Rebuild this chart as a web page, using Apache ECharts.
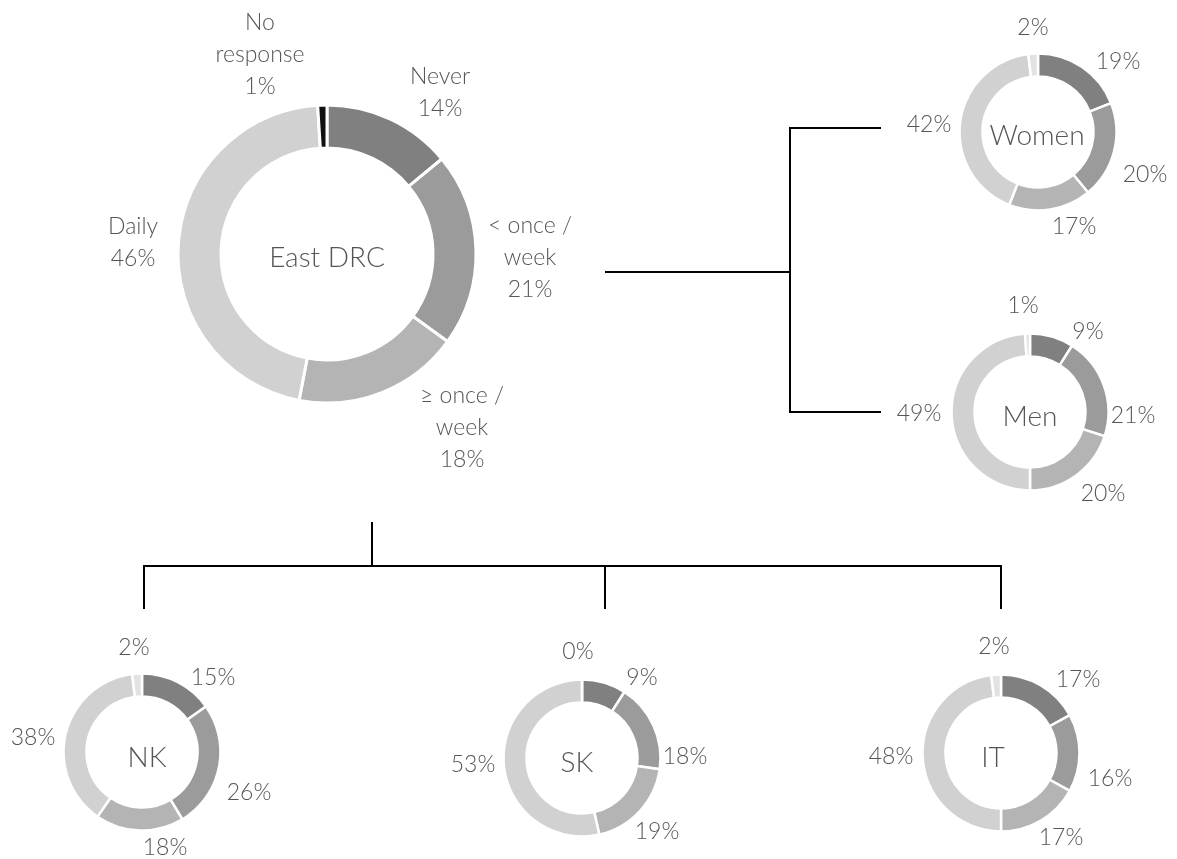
<!DOCTYPE html>
<html>
<head>
<meta charset="utf-8">
<script src="https://cdn.jsdelivr.net/npm/echarts@6/dist/echarts.min.js"></script>
<style>
html,body{margin:0;padding:0;background:#fff;}
#chart{width:1177px;height:859px;}
</style>
</head>
<body>
<div id="chart"></div>
<script>
// ---- data ----
const categories = ['Never', '< once / week', '≥ once / week', 'Daily', 'No response'];
const mainLabelNames = ['Never', '< once /\nweek', '≥ once /\nweek', 'Daily', 'No\nresponse'];
const groupNames = ['East DRC', 'Women', 'Men', 'NK', 'SK', 'IT'];
const eastDRC = [14, 21, 18, 46, 1];
const women = [19, 20, 17, 42, 2];
const men = [9, 21, 20, 49, 1];
const nk = [15, 26, 18, 38, 2];
const sk = [9, 18, 19, 53, 0];
const it = [17, 16, 17, 48, 2];

// ---- layout / style ----
const textColor = '#555555';
const font = 'Lato, "Open Sans", sans-serif';
const mainColors = ['#808080', '#9b9b9b', '#b4b4b4', '#d1d1d1', '#111111'];
const smallColors = ['#808080', '#9b9b9b', '#b4b4b4', '#d1d1d1', '#e2e2e2'];

const donuts = [
  { values: eastDRC, center: [327, 254], radius: [106, 149], border: 3, colors: mainColors, big: true,
    offsets: [[113, -161], [203, 4], [135, 174], [-194, -11], [-67, -199]], titleOff: [0, 4] },
  { values: women, center: [1038, 132], radius: [55.5, 78.5], border: 2.5, colors: smallColors,
    offsets: [[80, -70], [107, 43], [36, 95], [-109, -7], [-5, -104]], titleOff: [-1, 4] },
  { values: men, center: [1030, 412], radius: [55.5, 78.5], border: 2.5, colors: smallColors,
    offsets: [[58, -80], [103, 4], [73, 82], [-111, 2], [-7, -106]], titleOff: [0, 5] },
  { values: nk, center: [142, 752], radius: [55.5, 78.5], border: 2.5, colors: smallColors,
    offsets: [[71, -74], [107, 41], [23, 96], [-109, -14], [-8, -104]], titleOff: [5, 6] },
  { values: sk, center: [582, 758], radius: [55.5, 78.5], border: 2.5, colors: smallColors,
    offsets: [[60, -80], [103, -1], [75, 74], [-109, 7], [-4, -106]], titleOff: [-5, 5] },
  { values: it, center: [1001, 753], radius: [55.5, 78.5], border: 2.5, colors: smallColors,
    offsets: [[77, -73], [109, 26], [60, 85], [-110, 4], [-7, -106]], titleOff: [-8, 5] }
];

const series = donuts.map((d, si) => ({
  type: 'pie',
  name: groupNames[si],
  center: d.center,
  radius: d.radius,
  startAngle: 90,
  clockwise: true,
  avoidLabelOverlap: false,
  silent: true,
  animation: false,
  itemStyle: { borderColor: '#ffffff', borderWidth: d.border },
  label: {
    show: true,
    position: 'outside',
    color: textColor,
    fontFamily: font,
    fontWeight: 300,
    fontSize: 23,
    lineHeight: d.big ? 32 : 26,
    formatter: d.big
      ? (p) => mainLabelNames[p.dataIndex] + '\n' + p.value + '%'
      : (p) => p.value + '%'
  },
  labelLine: { show: false },
  labelLayout: (p) => ({
    x: d.center[0] + d.offsets[p.dataIndex][0],
    y: d.center[1] + d.offsets[p.dataIndex][1],
    align: 'center',
    verticalAlign: 'middle'
  }),
  data: categories.map((c, i) => ({
    name: c,
    value: d.values[i],
    itemStyle: { color: d.colors[i] }
  }))
}));

const lineStyle = { stroke: '#000000', lineWidth: 2, fill: null };
const graphics = [
  { type: 'polyline', shape: { points: [[605, 272], [790, 272]] }, style: lineStyle },
  { type: 'polyline', shape: { points: [[881, 128], [790, 128], [790, 412], [881, 412]] }, style: lineStyle },
  { type: 'polyline', shape: { points: [[372, 522], [372, 566]] }, style: lineStyle },
  { type: 'polyline', shape: { points: [[144, 609], [144, 566], [1001, 566], [1001, 609]] }, style: lineStyle },
  { type: 'polyline', shape: { points: [[605, 566], [605, 609]] }, style: lineStyle }
];
donuts.forEach((d, si) => {
  graphics.push({
    type: 'text',
    x: d.center[0] + d.titleOff[0],
    y: d.center[1] + d.titleOff[1],
    silent: true,
    style: {
      text: groupNames[si],
      fill: textColor,
      font: '300 28px ' + font,
      align: 'center',
      verticalAlign: 'middle'
    }
  });
});

const chart = echarts.init(document.getElementById('chart'), null, { renderer: 'canvas' });
chart.setOption({
  backgroundColor: '#ffffff',
  animation: false,
  series: series,
  graphic: graphics
});
</script>
</body>
</html>
